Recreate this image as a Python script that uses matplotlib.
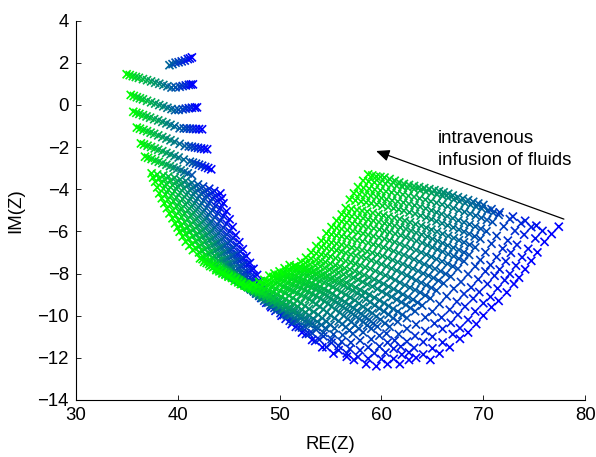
import matplotlib
matplotlib.use("Agg")
import matplotlib.pyplot as plt

plt.rcParams['font.family'] = ['Liberation Sans', 'DejaVu Sans']

# Each row: (colour fraction first, colour fraction last, RE values, IM values)
top_bit = (0.6, 1, [39.2,39.5,39.8,40.1,40.4,40.7,41,41.2,41.4],
           [1.88,1.93,2,2.02,2.06,2.1,2.17,2.2,2.25])
band_a = (0, 1, [35,35.3,35.6,35.9,36.2,36.6,37,37.4,37.8,38.2,38.6,39,39.4,39.8,40.2,40.5,40.8,41.1,41.3,41.5],
          [1.45,1.41,1.36,1.32,1.28,1.22,1.17,1.11,1.05,1,.94,.88,.82,.83,.86,.89,.92,.95,.96,.97])
band_b = (0, 1, [35.4,35.7,36,36.3,36.6,37,37.4,37.8,38.2,38.6,39,39.4,39.75,40.1,40.5,40.8,41.1,41.4,41.7,41.9],
          [.47,.42,.36,.31,.26,.19,.12,.06,-.01,-.07,-.14,-.2,-.25,-.24,-.21,-.18,-.16,-.14,-.13,-.12])
band_c = (0, 1, [35.65,35.95,36.25,36.6,36.95,37.3,37.7,38.1,38.5,38.9,39.3,39.7,40.2,40.6,40.9,41.2,41.5,41.8,42.1,42.4],
          [-.33,-.38,-.43,-.49,-.55,-.61,-.68,-.74,-.81,-.88,-.95,-1.02,-1.11,-1.12,-1.12,-1.13,-1.14,-1.15,-1.15,-1.16])
band_d = (0, 1, [36,36.3,36.65,37,37.35,37.7,38.1,38.5,38.9,39.3,39.7,40.2,40.7,41.1,41.4,41.7,42,42.3,42.6,42.9],
          [-1.08,-1.13,-1.19,-1.25,-1.32,-1.38,-1.45,-1.53,-1.6,-1.68,-1.75,-1.85,-1.95,-1.97,-1.99,-2.02,-2.04,-2.07,-2.09,-2.11])
band_e = (0, 1, [36.4,36.7,37.05,37.4,37.75,38.1,38.5,38.9,39.3,39.7,40.1,40.6,41.2,41.5,41.8,42.1,42.4,42.7,43,43.3],
          [-1.83,-1.88,-1.94,-2,-2.07,-2.13,-2.2,-2.28,-2.35,-2.43,-2.5,-2.6,-2.7,-2.74,-2.79,-2.84,-2.89,-2.95,-3,-3.06])
band_f = (0, 0.68, [36.8,37.1,37.45,37.8,38.15,38.5,38.9,39.25,39.6,39.95,40.3,40.65,41,41.4],
          [-2.46,-2.51,-2.57,-2.64,-2.7,-2.77,-2.84,-2.91,-2.98,-3.04,-3.11,-3.18,-3.25,-3.33])

left_01 = (0, 1, [37.45,38,38.6,39.1,39.7,40.25,40.8,41.4,42,42.5,43.1,43.6,44.2],
           [-3.25,-3.3,-3.35,-3.4,-3.46,-3.54,-3.61,-3.7,-3.78,-3.88,-3.98,-4.09,-4.2])
left_12 = (0, 1, [37.6,38.2,38.75,39.3,39.85,40.4,41,41.55,42.15,42.65,43.25,43.75,44.35],
           [-3.45,-3.5,-3.55,-3.6,-3.66,-3.75,-3.82,-3.91,-4,-4.1,-4.21,-4.32,-4.43])
left_02 = (0, 1, [37.8,38.4,38.9,39.5,40,40.6,41.2,41.7,42.3,42.8,43.4,43.9,44.5],
           [-3.65,-3.7,-3.75,-3.81,-3.87,-3.96,-4.04,-4.13,-4.22,-4.32,-4.44,-4.55,-4.67])
left_23 = (0, 1, [38,38.6,39.1,39.7,40.25,40.85,41.4,41.95,42.55,43.1,43.7,44.2,44.8],
           [-3.92,-3.98,-4.03,-4.1,-4.17,-4.26,-4.35,-4.45,-4.55,-4.66,-4.79,-4.91,-5.05])
left_03 = (0, 1, [38.2,38.8,39.35,39.9,40.5,41.1,41.65,42.2,42.8,43.4,43.95,44.5,45.1],
           [-4.2,-4.26,-4.32,-4.4,-4.47,-4.57,-4.67,-4.78,-4.89,-5.01,-5.15,-5.28,-5.43])
left_34 = (0, 1, [38.45,39.05,39.6,40.15,40.75,41.35,41.9,42.5,43.05,43.65,44.2,44.8,45.4],
           [-4.43,-4.5,-4.57,-4.65,-4.73,-4.84,-4.95,-5.08,-5.2,-5.34,-5.49,-5.64,-5.8])
left_04 = (0, 1, [38.7,39.3,39.9,40.4,41,41.6,42.2,42.8,43.3,43.9,44.5,45.1,45.7],
           [-4.67,-4.75,-4.82,-4.91,-5,-5.12,-5.24,-5.38,-5.52,-5.67,-5.83,-6,-6.18])
left_45 = (0, 1, [38.95,39.55,40.15,40.7,41.3,41.9,42.5,43.1,43.65,44.25,44.85,45.45,46.05],
           [-4.9,-5,-5.07,-5.16,-5.26,-5.39,-5.52,-5.66,-5.81,-5.97,-6.15,-6.32,-6.52])
left_05 = (0, 1, [39.2,39.8,40.4,41,41.6,42.2,42.8,43.4,44,44.6,45.2,45.8,46.4],
           [-5.15,-5.24,-5.32,-5.42,-5.52,-5.66,-5.8,-5.95,-6.1,-6.27,-6.46,-6.65,-6.85])
left_56 = (0, 1, [39.5,40.1,40.7,41.3,41.9,42.5,43.1,43.7,44.3,44.9,45.5,46.15,46.75],
           [-5.38,-5.48,-5.56,-5.67,-5.78,-5.92,-6.06,-6.22,-6.38,-6.56,-6.76,-6.96,-7.18])
left_06 = (0, 1, [39.75,40.36,40.97,41.58,42.19,42.8,43.41,44.02,44.63,45.24,45.85,46.46,47.1],
           [-5.62,-5.71,-5.81,-5.92,-6.03,-6.18,-6.33,-6.5,-6.67,-6.86,-7.07,-7.27,-7.5])
left_67 = (0, 1, [40,40.6,41.2,41.85,42.45,43.1,43.7,44.3,44.95,45.55,46.2,46.85,47.45],
           [-5.82,-5.92,-6.02,-6.14,-6.25,-6.41,-6.56,-6.74,-6.92,-7.12,-7.34,-7.55,-7.78])
left_07 = (0, 1, [40.2,40.8,41.5,42.1,42.7,43.4,44,44.6,45.3,45.9,46.5,47.2,47.8],
           [-6.02,-6.12,-6.23,-6.35,-6.47,-6.64,-6.8,-6.98,-7.17,-7.37,-7.6,-7.82,-8.07])
left_78 = (0, 1, [40.5,41.1,41.8,42.4,43,43.7,44.3,44.9,45.6,46.2,46.8,47.5,48.1],
           [-6.25,-6.36,-6.47,-6.6,-6.72,-6.9,-7.06,-7.26,-7.45,-7.66,-7.9,-8.12,-8.38])
left_08 = (0, 1, [40.8,41.4,42.1,42.7,43.3,44,44.6,45.2,45.9,46.5,47.1,47.8,48.4],
           [-6.49,-6.6,-6.71,-6.84,-6.98,-7.15,-7.33,-7.53,-7.73,-7.95,-8.19,-8.43,-8.7])
left_89 = (0, 1, [41.15,41.75,42.4,43.05,43.65,44.3,44.9,45.5,46.15,46.75,47.4,48.05,48.65],
           [-6.69,-6.8,-6.92,-7.05,-7.19,-7.36,-7.55,-7.76,-7.96,-8.18,-8.43,-8.68,-8.95])
left_09 = (0, 1, [41.5,42.1,42.7,43.4,44,44.6,45.2,45.8,46.4,47,47.7,48.3,48.9],
           [-6.89,-7,-7.12,-7.26,-7.4,-7.58,-7.77,-7.98,-8.18,-8.41,-8.67,-8.92,-9.2])

row_33 = (0, 1, [42.2,42.7,43.2,43.7,44.2,44.7,45.2,45.7,46.2,46.7,47.2,47.7,48.2,48.7,49.2],
          [-7.28,-7.37,-7.47,-7.58,-7.72,-7.86,-8.02,-8.18,-8.37,-8.56,-8.74,-8.95,-9.16,-9.39,-9.6])
row_32 = (0, 1, [42.6,43.1,43.7,44.2,44.8,45.3,45.8,46.4,46.9,47.5,48,48.5,49.1,49.6,50.2],
          [-7.45,-7.55,-7.65,-7.78,-7.93,-8.09,-8.27,-8.44,-8.65,-8.85,-9.06,-9.29,-9.52,-9.77,-10])
row_31 = (0, 1, [43.2,43.8,44.3,44.9,45.5,46.1,46.6,47.2,47.8,48.3,48.9,49.5,50.1,50.6,51.2],
          [-7.65,-7.76,-7.87,-8.01,-8.17,-8.34,-8.53,-8.72,-8.94,-9.16,-9.38,-9.63,-9.88,-10.15,-10.4])
row_30 = (0, 1, [43.8,44.4,45,45.6,46.2,46.8,47.4,48,48.6,49.2,49.8,50.4,51,51.6,52.2],
          [-7.84,-7.96,-8.08,-8.22,-8.4,-8.58,-8.79,-9,-9.23,-9.47,-9.7,-9.97,-10.24,-10.53,-10.8])
row_29 = (0, 1, [44.4,45,45.7,46.3,46.9,47.5,48.2,48.8,49.4,50.1,50.7,51.3,51.9,52.6,53.2],
          [-8,-8.13,-8.25,-8.41,-8.6,-8.79,-9.01,-9.23,-9.48,-9.73,-9.98,-10.27,-10.55,-10.87,-11.15])
row_28 = (0, 1, [45,45.7,46.3,47,47.6,48.3,48.9,49.6,50.3,50.9,51.6,52.2,52.9,53.5,54.2],
          [-8.15,-8.28,-8.42,-8.59,-8.79,-8.99,-9.22,-9.46,-9.72,-9.99,-10.26,-10.56,-10.86,-11.2,-11.5])
row_27 = (0, 1, [45.6,46.3,47,47.7,48.4,49.1,49.7,50.4,51.1,51.8,52.5,53.2,53.9,54.6,55.3],
          [-8.35,-8.49,-8.63,-8.8,-9.01,-9.21,-9.45,-9.7,-9.97,-10.25,-10.52,-10.83,-11.14,-11.49,-11.8])
row_26 = (0, 1, [46.2,46.9,47.7,48.4,49.2,49.9,50.6,51.4,52.1,52.9,53.6,54.3,55.1,55.8,56.6],
          [-8.5,-8.64,-8.78,-8.95,-9.16,-9.36,-9.6,-9.85,-10.12,-10.4,-10.67,-10.98,-11.29,-11.64,-11.95])
row_25 = (0, 1, [46.8,47.6,48.3,49.1,49.8,50.6,51.3,52.1,52.8,53.6,54.3,55.1,55.8,56.6,57.3],
          [-8.6,-8.74,-8.88,-9.06,-9.27,-9.48,-9.72,-9.97,-10.25,-10.53,-10.81,-11.12,-11.44,-11.79,-12.1])
row_24 = (0, 1, [47.4,48.2,49,49.8,50.6,51.4,52.2,52.9,53.7,54.5,55.3,56.1,56.9,57.7,58.5],
          [-8.5,-8.65,-8.8,-9,-9.22,-9.45,-9.72,-9.98,-10.29,-10.59,-10.89,-11.24,-11.58,-11.96,-12.3])
row_23 = (0, 1, [48,48.8,49.6,50.5,51.3,52.1,52.9,53.8,54.6,55.4,56.2,57,57.9,58.7,59.5],
          [-8.4,-8.56,-8.72,-8.92,-9.16,-9.4,-9.68,-9.96,-10.28,-10.6,-10.92,-11.28,-11.64,-12.04,-12.4])
row_22 = (0, 1, [48.5,49.2,50,50.7,51.4,52.1,52.9,53.6,54.3,55,55.8,56.5,57.2,57.9,58.7,59.3,60,60.6],
          [-8.3,-8.42,-8.54,-8.7,-8.86,-9.02,-9.22,-9.46,-9.7,-9.98,-10.26,-10.54,-10.86,-11.18,-11.5,-11.78,-12.06,-12.3])
row_21 = (0, 1, [49,49.8,50.5,51.3,52.1,52.8,53.6,54.4,55.1,55.9,56.7,57.4,58.2,59,59.8,60.4,61.2,61.8],
          [-8.1,-8.23,-8.35,-8.52,-8.69,-8.86,-9.07,-9.32,-9.57,-9.86,-10.16,-10.45,-10.79,-11.12,-11.46,-11.75,-12.05,-12.3])
row_20 = (0, 1, [49.5,50.3,51.1,51.9,52.7,53.5,54.3,55,55.8,56.6,57.4,58.2,59,59.8,60.6,61.2,62,62.7],
          [-8,-8.12,-8.25,-8.41,-8.57,-8.74,-8.94,-9.19,-9.44,-9.72,-10.01,-10.3,-10.62,-10.95,-11.28,-11.57,-11.85,-12.1])
row_19 = (0, 1, [50,50.8,51.6,52.4,53.2,54,54.8,55.6,56.4,57.2,58,58.8,59.6,60.5,61.3,61.9,62.7,63.4],
          [-7.9,-8.02,-8.15,-8.31,-8.47,-8.64,-8.84,-9.09,-9.34,-9.62,-9.91,-10.2,-10.52,-10.85,-11.18,-11.47,-11.75,-12])
row_18 = (0, 1, [50.5,51.4,52.2,53.1,53.9,54.8,55.6,56.5,57.4,58.2,59.1,59.9,60.8,61.7,62.5,63.2,64.1,64.8],
          [-7.75,-7.88,-8.01,-8.19,-8.36,-8.53,-8.75,-9.01,-9.27,-9.58,-9.88,-10.19,-10.53,-10.88,-11.23,-11.53,-11.84,-12.1])
row_17 = (0, 1, [51,51.9,52.8,53.6,54.5,55.4,56.3,57.2,58.1,58.9,59.8,60.7,61.6,62.5,63.3,64.1,65,65.7],
          [-7.6,-7.73,-7.85,-8.02,-8.19,-8.36,-8.57,-8.82,-9.07,-9.36,-9.66,-9.95,-10.29,-10.62,-10.96,-11.25,-11.55,-11.8])
row_16 = (0, 1, [51.6,52.5,53.4,54.3,55.2,56.1,57,57.9,58.8,59.8,60.7,61.6,62.5,63.4,64.3,65,66,66.7],
          [-7.65,-7.77,-7.88,-8.04,-8.19,-8.34,-8.54,-8.77,-9,-9.27,-9.54,-9.81,-10.11,-10.42,-10.73,-11,-11.27,-11.5])
row_15 = (0, 1, [52.1,53,54,54.9,55.8,56.8,57.7,58.6,59.6,60.5,61.5,62.4,63.3,64.3,65.2,66,67,67.7],
          [-7.45,-7.56,-7.67,-7.82,-7.96,-8.11,-8.29,-8.51,-8.73,-8.98,-9.24,-9.49,-9.79,-10.08,-10.37,-10.63,-10.88,-11.1])
row_14 = (0, 1, [52.6,53.6,54.5,55.5,56.4,57.4,58.3,59.3,60.2,61.2,62.1,63.1,64,65,65.9,66.8,67.7,68.5],
          [-7.25,-7.36,-7.46,-7.61,-7.75,-7.89,-8.07,-8.28,-8.49,-8.74,-8.99,-9.24,-9.52,-9.81,-10.09,-10.34,-10.59,-10.8])
row_13 = (0, 1, [53.1,54.1,55,56,57,57.9,58.9,59.9,60.9,61.8,62.8,63.8,64.8,65.7,66.7,67.5,68.5,69.3],
          [-7,-7.1,-7.2,-7.34,-7.48,-7.61,-7.78,-7.99,-8.19,-8.43,-8.67,-8.9,-9.18,-9.45,-9.72,-9.96,-10.2,-10.4])
row_12 = (0, 1, [53.6,54.6,55.6,56.5,57.5,58.5,59.5,60.5,61.5,62.5,63.4,64.4,65.4,66.4,67.4,68.2,69.2,70],
          [-6.7,-6.8,-6.9,-7.03,-7.16,-7.29,-7.46,-7.66,-7.86,-8.09,-8.32,-8.55,-8.81,-9.08,-9.34,-9.57,-9.8,-10])
row_11 = (0, 1, [54.1,55.1,56.1,57.1,58.1,59.1,60.1,61.1,62.1,63.1,64.1,65.1,66.1,67.1,68.1,69,70,70.8],
          [-6.45,-6.54,-6.64,-6.77,-6.89,-7.02,-7.17,-7.36,-7.55,-7.77,-8,-8.21,-8.47,-8.72,-8.97,-9.19,-9.41,-9.6])
row_10 = (0, 1, [54.6,55.6,56.6,57.6,58.7,59.7,60.7,61.7,62.7,63.7,64.7,65.8,66.8,67.8,68.8,69.6,70.7,71.5],
          [-6.1,-6.2,-6.29,-6.42,-6.55,-6.68,-6.84,-7.03,-7.22,-7.44,-7.67,-7.89,-8.15,-8.4,-8.66,-8.88,-9.11,-9.3])
row_09 = (0, 1, [55.1,56.1,57.2,58.2,59.2,60.3,61.3,62.3,63.4,64.4,65.4,66.5,67.5,68.5,69.5,70.4,71.4,72.3],
          [-5.8,-5.89,-5.99,-6.11,-6.23,-6.36,-6.51,-6.7,-6.89,-7.1,-7.32,-7.54,-7.78,-8.03,-8.28,-8.5,-8.71,-8.9])
row_08 = (0, 1, [55.6,56.6,57.7,58.7,59.8,60.8,61.9,62.9,64,65,66,67.1,68.1,69.2,70.2,71.1,72.1,73],
          [-5.5,-5.59,-5.68,-5.8,-5.92,-6.04,-6.19,-6.37,-6.55,-6.76,-6.97,-7.18,-7.42,-7.66,-7.9,-8.11,-8.32,-8.5])
row_07 = (0, 1, [56.1,57.1,58.2,59.2,60.3,61.3,62.4,63.4,64.5,65.5,66.5,67.6,68.6,69.7,70.7,71.6,72.6,73.5],
          [-5.2,-5.29,-5.38,-5.5,-5.62,-5.74,-5.89,-6.07,-6.25,-6.46,-6.67,-6.88,-7.12,-7.36,-7.6,-7.81,-8.02,-8.2])
row_06 = (0, 1, [56.5,57.6,58.6,59.7,60.7,61.8,62.8,63.9,64.9,66,67.1,68.1,69.2,70.2,71.3,72.2,73.2,74.1],
          [-4.9,-4.99,-5.07,-5.19,-5.31,-5.42,-5.57,-5.74,-5.92,-6.12,-6.32,-6.52,-6.76,-6.99,-7.22,-7.42,-7.63,-7.8])
row_05 = (0, 1, [56.9,58,59,60.1,61.2,62.2,63.3,64.4,65.4,66.5,67.6,68.6,69.7,70.8,71.9,72.7,73.8,74.7],
          [-4.5,-4.59,-4.67,-4.79,-4.91,-5.02,-5.17,-5.34,-5.52,-5.72,-5.92,-6.12,-6.36,-6.59,-6.82,-7.02,-7.23,-7.4])
row_04 = (0, 1, [57.3,58.4,59.5,60.5,61.6,62.7,63.8,64.9,65.9,67,68.1,69.2,70.3,71.3,72.4,73.3,74.4,75.3],
          [-4.2,-4.28,-4.37,-4.48,-4.59,-4.7,-4.84,-5.01,-5.18,-5.38,-5.57,-5.77,-6,-6.22,-6.44,-6.64,-6.83,-7])
row_03 = (0, 1, [57.7,58.8,59.9,61,62.1,63.2,64.3,65.4,66.5,67.6,68.7,69.8,70.9,72,73.1,74,75.1,76],
          [-3.9,-3.98,-4.06,-4.16,-4.26,-4.37,-4.5,-4.65,-4.81,-5,-5.17,-5.36,-5.56,-5.77,-5.98,-6.16,-6.34,-6.5])
row_02 = (0, 1, [58.2,59.3,60.4,61.5,62.6,63.8,64.9,66,67.1,68.2,69.3,70.4,71.5,72.6,73.7,74.7,75.8,76.7],
          [-3.6,-3.68,-3.75,-3.85,-3.95,-4.06,-4.18,-4.33,-4.49,-4.66,-4.84,-5.02,-5.22,-5.42,-5.62,-5.8,-5.98,-6.13])
row_01 = (0, 1, [58.7,59.5,60.3,61.3,62.2,63.2,64.2,65.2,66.1,67,68,69,70,70.8,71.6,72.9,74.1,75.2,77.4],
          [-3.3,-3.4,-3.45,-3.6,-3.75,-3.85,-3.95,-4.05,-4.15,-4.3,-4.45,-4.6,-4.75,-4.95,-5.1,-5.3,-5.5,-5.73,-5.78])

# Denser marks of the green-to-teal stretch of each row
fill_33 = (0.04, 0.61, [42.45,42.95,43.45,43.95,44.45,44.95,45.45,45.95,46.45], [-7.32,-7.42,-7.52,-7.65,-7.79,-7.94,-8.1,-8.27,-8.46])
fill_32 = (0.04, 0.61, [42.85,43.4,43.95,44.5,45.05,45.55,46.1,46.65,47.2], [-7.5,-7.6,-7.71,-7.85,-8.01,-8.18,-8.35,-8.55,-8.75])
fill_31 = (0.04, 0.61, [43.5,44.05,44.6,45.2,45.8,46.35,46.9,47.5,48.05], [-7.7,-7.81,-7.94,-8.09,-8.25,-8.43,-8.62,-8.83,-9.05])
fill_30 = (0.04, 0.61, [44.1,44.7,45.3,45.9,46.5,47.1,47.7,48.3,48.9], [-7.9,-8.02,-8.15,-8.31,-8.49,-8.68,-8.9,-9.11,-9.35])
fill_29 = (0.04, 0.61, [44.7,45.35,46,46.6,47.2,47.85,48.5,49.1,49.75], [-8.06,-8.19,-8.33,-8.5,-8.69,-8.9,-9.12,-9.35,-9.6])
fill_28 = (0.04, 0.61, [45.35,46,46.65,47.3,47.95,48.6,49.25,49.95,50.6], [-8.21,-8.35,-8.5,-8.69,-8.89,-9.1,-9.34,-9.59,-9.85])
fill_27 = (0.04, 0.61, [45.95,46.65,47.35,48.05,48.75,49.4,50.05,50.75,51.45], [-8.42,-8.56,-8.71,-8.9,-9.11,-9.33,-9.58,-9.84,-10.11])
fill_26 = (0.04, 0.61, [46.55,47.3,48.05,48.8,49.55,50.25,51,51.75,52.5], [-8.57,-8.71,-8.86,-9.05,-9.26,-9.48,-9.72,-9.98,-10.26])
fill_25 = (0.04, 0.61, [47.2,47.95,48.7,49.45,50.2,50.95,51.7,52.45,53.2], [-8.67,-8.81,-8.97,-9.16,-9.38,-9.6,-9.84,-10.11,-10.39])
fill_24 = (0.04, 0.61, [47.8,48.6,49.4,50.2,51,51.8,52.55,53.3,54.1], [-8.58,-8.72,-8.9,-9.11,-9.34,-9.58,-9.85,-10.14,-10.44])
fill_23 = (0.04, 0.61, [48.4,49.2,50.05,50.9,51.7,52.5,53.35,54.2,55], [-8.48,-8.64,-8.82,-9.04,-9.28,-9.54,-9.82,-10.12,-10.44])
fill_22 = (0.03, 0.68, [48.85,49.6,50.35,51.05,51.75,52.5,53.25,53.95,54.65,55.4,56.15,56.85], [-8.36,-8.48,-8.62,-8.78,-8.94,-9.12,-9.34,-9.58,-9.84,-10.12,-10.4,-10.7])
fill_21 = (0.03, 0.68, [49.4,50.15,50.9,51.7,52.45,53.2,54,54.75,55.5,56.3,57.05,57.8], [-8.16,-8.29,-8.44,-8.6,-8.78,-8.96,-9.2,-9.44,-9.72,-10.01,-10.3,-10.62])
fill_20 = (0.03, 0.68, [49.9,50.7,51.5,52.3,53.1,53.9,54.65,55.4,56.2,57,57.8,58.6], [-8.06,-8.18,-8.33,-8.49,-8.66,-8.84,-9.06,-9.31,-9.58,-9.86,-10.16,-10.46])
fill_19 = (0.03, 0.68, [50.4,51.2,52,52.8,53.6,54.4,55.2,56,56.8,57.6,58.4,59.2], [-7.96,-8.08,-8.23,-8.39,-8.56,-8.74,-8.96,-9.21,-9.48,-9.76,-10.06,-10.36])
fill_18 = (0.03, 0.68, [50.95,51.8,52.65,53.5,54.35,55.2,56.05,56.95,57.8,58.65,59.5,60.35], [-7.81,-7.94,-8.1,-8.27,-8.44,-8.64,-8.88,-9.14,-9.42,-9.73,-10.04,-10.36])
fill_17 = (0.03, 0.68, [51.45,52.35,53.2,54.05,54.95,55.85,56.75,57.65,58.5,59.35,60.25,61.15], [-7.66,-7.79,-7.94,-8.1,-8.28,-8.46,-8.7,-8.94,-9.22,-9.51,-9.8,-10.12])
fill_16 = (0.03, 0.68, [52.05,52.95,53.85,54.75,55.65,56.55,57.45,58.35,59.3,60.25,61.15,62.05], [-7.71,-7.82,-7.96,-8.12,-8.26,-8.44,-8.66,-8.88,-9.14,-9.4,-9.68,-9.96])
fill_15 = (0.03, 0.68, [52.55,53.5,54.45,55.35,56.3,57.25,58.15,59.1,60.05,61,61.95,62.85], [-7.5,-7.62,-7.74,-7.89,-8.04,-8.2,-8.4,-8.62,-8.86,-9.11,-9.36,-9.64])
fill_14 = (0.03, 0.68, [53.1,54.05,55,55.95,56.9,57.85,58.8,59.75,60.7,61.65,62.6,63.55], [-7.3,-7.41,-7.54,-7.68,-7.82,-7.98,-8.18,-8.38,-8.62,-8.86,-9.12,-9.38])
fill_13 = (0.03, 0.68, [53.6,54.55,55.5,56.5,57.45,58.4,59.4,60.4,61.35,62.3,63.3,64.3], [-7.05,-7.15,-7.27,-7.41,-7.54,-7.7,-7.88,-8.09,-8.31,-8.55,-8.78,-9.04])
fill_12 = (0.03, 0.68, [54.1,55.1,56.05,57,58,59,60,61,62,62.95,63.9,64.9], [-6.75,-6.85,-6.96,-7.1,-7.22,-7.38,-7.56,-7.76,-7.98,-8.2,-8.44,-8.68])
fill_11 = (0.03, 0.68, [54.6,55.6,56.6,57.6,58.6,59.6,60.6,61.6,62.6,63.6,64.6,65.6], [-6.5,-6.59,-6.7,-6.83,-6.96,-7.1,-7.26,-7.46,-7.66,-7.88,-8.1,-8.34])
fill_10 = (0.03, 0.68, [55.1,56.1,57.1,58.15,59.2,60.2,61.2,62.2,63.2,64.2,65.25,66.3], [-6.15,-6.24,-6.36,-6.48,-6.62,-6.76,-6.94,-7.12,-7.33,-7.56,-7.78,-8.02])
fill_09 = (0.03, 0.68, [55.6,56.65,57.7,58.7,59.75,60.8,61.8,62.85,63.9,64.9,65.95,67], [-5.84,-5.94,-6.05,-6.17,-6.3,-6.44,-6.6,-6.8,-7,-7.21,-7.43,-7.66])
fill_08 = (0.03, 0.68, [56.1,57.15,58.2,59.25,60.3,61.35,62.4,63.45,64.5,65.5,66.55,67.6], [-5.54,-5.64,-5.74,-5.86,-5.98,-6.12,-6.28,-6.46,-6.66,-6.86,-7.08,-7.3])
fill_07 = (0.03, 0.68, [56.6,57.65,58.7,59.75,60.8,61.85,62.9,63.95,65,66,67.05,68.1], [-5.24,-5.34,-5.44,-5.56,-5.68,-5.82,-5.98,-6.16,-6.36,-6.56,-6.78,-7])
fill_06 = (0.03, 0.68, [57.05,58.1,59.15,60.2,61.25,62.3,63.35,64.4,65.45,66.55,67.6,68.65], [-4.94,-5.03,-5.13,-5.25,-5.36,-5.5,-5.66,-5.83,-6.02,-6.22,-6.42,-6.64])
fill_05 = (0.03, 0.68, [57.45,58.5,59.55,60.65,61.7,62.75,63.85,64.9,65.95,67.05,68.1,69.15], [-4.54,-4.63,-4.73,-4.85,-4.96,-5.1,-5.26,-5.43,-5.62,-5.82,-6.02,-6.24])
fill_04 = (0.03, 0.68, [57.85,58.95,60,61.05,62.15,63.25,64.35,65.4,66.45,67.55,68.65,69.75], [-4.24,-4.32,-4.42,-4.54,-4.64,-4.77,-4.92,-5.1,-5.28,-5.48,-5.67,-5.88])
fill_03 = (0.03, 0.68, [58.25,59.35,60.45,61.55,62.65,63.75,64.85,65.95,67.05,68.15,69.25,70.35], [-3.94,-4.02,-4.11,-4.21,-4.32,-4.44,-4.58,-4.73,-4.9,-5.08,-5.26,-5.46])
fill_02 = (0.03, 0.68, [58.75,59.85,60.95,62.05,63.2,64.35,65.45,66.55,67.65,68.75,69.85,70.95], [-3.64,-3.72,-3.8,-3.9,-4,-4.12,-4.26,-4.41,-4.58,-4.75,-4.93,-5.12])
fill_01 = (0.03, 0.64, [59.1,59.9,60.8,61.75,62.7,63.7,64.7,65.65,66.55,67.5,68.5,69.5], [-3.35,-3.42,-3.52,-3.68,-3.8,-3.9,-4,-4.1,-4.22,-4.38,-4.52,-4.68])

rows = [top_bit, band_a, band_b, band_c, band_d, band_e, band_f,
        left_01, left_12, left_02, left_23, left_03, left_34, left_04, left_45, left_05,
        left_56, left_06, left_67, left_07, left_78, left_08, left_89, left_09,
        fill_33, row_33, fill_32, row_32, fill_31, row_31, fill_30, row_30, fill_29, row_29,
        fill_28, row_28, fill_27, row_27, fill_26, row_26, fill_25, row_25, fill_24, row_24,
        fill_23, row_23, fill_22, row_22, fill_21, row_21, fill_20, row_20, fill_19, row_19,
        fill_18, row_18, fill_17, row_17, fill_16, row_16, fill_15, row_15, fill_14, row_14,
        fill_13, row_13, fill_12, row_12, fill_11, row_11, fill_10, row_10, fill_09, row_09,
        fill_08, row_08, fill_07, row_07, fill_06, row_06, fill_05, row_05, fill_04, row_04,
        fill_03, row_03, fill_02, row_02, fill_01, row_01]

x_ticks = [30, 40, 50, 60, 70, 80]
y_ticks = [4, 2, 0, -2, -4, -6, -8, -10, -12, -14]

W, H = 596, 457
fig = plt.figure(figsize=(W / 100, H / 100), dpi=100)
ax = fig.add_axes([75.7 / W, 1 - 400 / H, (585.3 - 75.7) / W, (400 - 20.5) / H])

for first, last, re_vals, im_vals in rows:
    n = len(re_vals)
    colours = []
    for i in range(n):
        f = first + (last - first) * i / (n - 1)
        colours.append((0, 1 - f, f))
    ax.scatter(re_vals, im_vals, marker='x', s=34, c=colours, linewidths=1.2, clip_on=False)

ax.set_xlim(30, 80)
ax.set_ylim(-14, 4)
ax.set_xticks(x_ticks)
ax.set_yticks(y_ticks)
ax.spines['top'].set_visible(False)
ax.spines['right'].set_visible(False)
for s in ('left', 'bottom'):
    ax.spines[s].set_linewidth(0.8)
ax.tick_params(direction='in', length=3.6, width=0.6, labelsize=13.4, pad=5)
ax.set_xlabel('RE(Z)', fontsize=13.4, labelpad=9)
ax.set_ylabel('IM(Z)', fontsize=13.4, labelpad=9)

ax.annotate('', xy=(59.47, -2.19), xytext=(77.9, -5.42),
            arrowprops=dict(arrowstyle='-|>,head_length=0.8,head_width=0.35', color='black', lw=0.9,
                            shrinkA=0, shrinkB=0))
ax.text(65.55, -1.81, 'intravenous', fontsize=13.4, va='baseline', ha='left')
ax.text(65.55, -2.85, 'infusion of fluids', fontsize=13.4, va='baseline', ha='left')

fig.savefig('out.png', dpi=100)
